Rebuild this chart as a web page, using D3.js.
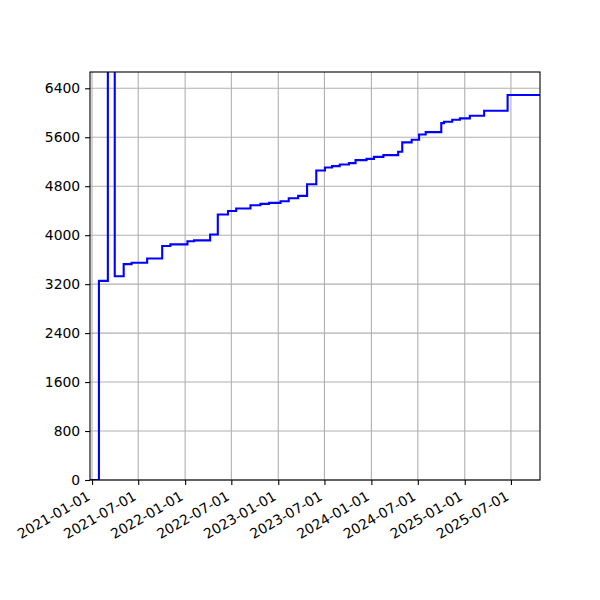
<!DOCTYPE html>
<html>
<head>
<meta charset="utf-8">
<script src="https://cdn.jsdelivr.net/npm/d3@7"></script>
<style>
  body { margin: 0; background: #fff; }
  svg { font-family: "DejaVu Sans", sans-serif; }
</style>
</head>
<body>
<div id="chart"></div>
<script>
// step series (value holds until the next date)
var dates = ["2020-12-24", "2021-01-28", "2021-03-04", "2021-03-31", "2021-05-05", "2021-06-05",
  "2021-08-05", "2021-10-03", "2021-11-04", "2022-01-10", "2022-02-05", "2022-04-09",
  "2022-05-09", "2022-06-18", "2022-07-20", "2022-09-14", "2022-10-23", "2022-11-26",
  "2023-01-10", "2023-02-11", "2023-03-20", "2023-04-24", "2023-05-30", "2023-07-03",
  "2023-07-31", "2023-08-30", "2023-10-05", "2023-10-31", "2023-12-13", "2024-01-11",
  "2024-02-17", "2024-04-15", "2024-05-01", "2024-06-07", "2024-07-06", "2024-08-01",
  "2024-10-01", "2024-10-12", "2024-11-13", "2024-12-13", "2025-01-21", "2025-03-18",
  "2025-06-18", "2025-10-23"];
var values = [0, 3254, 20000, 3330, 3527, 3550,
  3620, 3822, 3850, 3900, 3915, 4010,
  4337, 4396, 4435, 4489, 4511, 4527,
  4555, 4604, 4642, 4833, 5057, 5106,
  5128, 5155, 5177, 5226, 5247, 5280,
  5308, 5362, 5516, 5558, 5646, 5684,
  5831, 5853, 5886, 5908, 5951, 6033,
  6290, 6290];

var yTicks = [0, 800, 1600, 2400, 3200, 4000, 4800, 5600, 6400];
var xTicks = ["2021-01-01", "2021-07-01", "2022-01-01", "2022-07-01", "2023-01-01",
  "2023-07-01", "2024-01-01", "2024-07-01", "2025-01-01", "2025-07-01"];
var yMax = 6666;

var parse = d3.timeParse("%Y-%m-%d");
var data = dates.map(function(d, i) { return {date: parse(d), value: values[i]}; });

var margin = {top: 72, right: 60, bottom: 120, left: 90},
    width = 600 - margin.left - margin.right,
    height = 600 - margin.top - margin.bottom;

var svg = d3.select("#chart")
  .append("svg")
  .attr("width", 600)
  .attr("height", 600)
  .append("g")
  .attr("transform", "translate(" + margin.left + "," + margin.top + ")");

var x = d3.scaleTime()
  .domain([parse(dates[0]), parse(dates[dates.length - 1])])
  .range([0, width]);

var y = d3.scaleLinear()
  .domain([0, yMax])
  .range([height, 0]);

// grid
svg.append("g")
  .selectAll("line.vg")
  .data(xTicks.map(parse))
  .enter().append("line")
  .attr("x1", function(d) { return x(d); })
  .attr("x2", function(d) { return x(d); })
  .attr("y1", 0).attr("y2", height)
  .attr("stroke", "#b0b0b0").attr("stroke-width", 1.1);

svg.append("g")
  .selectAll("line.hg")
  .data(yTicks)
  .enter().append("line")
  .attr("x1", 0).attr("x2", width)
  .attr("y1", function(d) { return y(d); })
  .attr("y2", function(d) { return y(d); })
  .attr("stroke", "#b0b0b0").attr("stroke-width", 1.1);

svg.append("clipPath").attr("id", "clip")
  .append("rect").attr("width", width).attr("height", height);

var line = d3.line()
  .x(function(d) { return x(d.date); })
  .y(function(d) { return y(d.value); })
  .curve(d3.curveStepAfter);

svg.append("path")
  .datum(data)
  .attr("clip-path", "url(#clip)")
  .attr("fill", "none")
  .attr("stroke", "#0000ff")
  .attr("stroke-width", 2.1)
  .attr("stroke-linejoin", "miter")
  .attr("d", line);

// axes
var yAxis = svg.append("g")
  .call(d3.axisLeft(y).tickValues(yTicks).tickSize(4.9).tickPadding(4.9).tickFormat(d3.format("d")));

var xAxis = svg.append("g")
  .attr("transform", "translate(0," + height + ")")
  .call(d3.axisBottom(x).tickValues(xTicks.map(parse)).tickSize(4.9).tickFormat(d3.timeFormat("%Y-%m-%d")));

[xAxis, yAxis].forEach(function(a) {
  a.select(".domain").remove();
  a.selectAll(".tick line").attr("stroke", "#000").attr("stroke-width", 1.1);
  a.selectAll("text").attr("font-size", "13.9px").attr("fill", "#000").attr("font-family", "DejaVu Sans");
});

xAxis.selectAll(".tick text")
  .attr("text-anchor", "end")
  .attr("y", 0).attr("dy", 0)
  .attr("transform", "translate(-1.5,19) rotate(-30)");

// frame
svg.append("rect")
  .attr("width", width).attr("height", height)
  .attr("fill", "none").attr("stroke", "#000").attr("stroke-width", 1.1);
</script>
</body>
</html>
